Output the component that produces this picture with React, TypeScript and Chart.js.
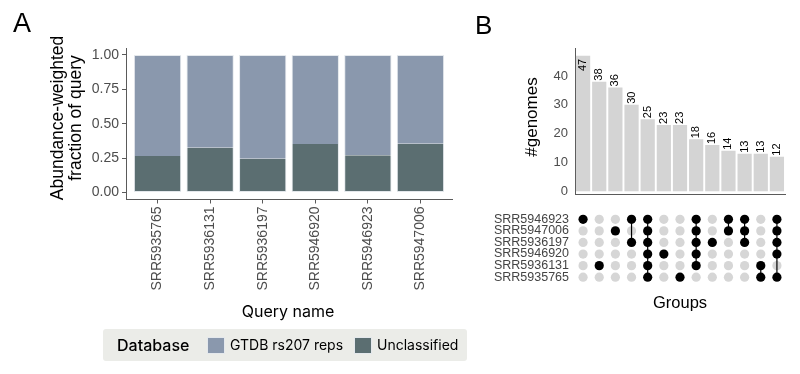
import React, { useEffect, useRef } from "react";
import { Chart, registerables } from "chart.js";
Chart.register(...registerables);

// ---------- Panel A data ----------
const queryNames = ["SRR5935765", "SRR5936131", "SRR5936197", "SRR5946920", "SRR5946923", "SRR5947006"];
const unclassified = [0.265, 0.326, 0.245, 0.353, 0.272, 0.355];
const gtdbReps = [0.735, 0.674, 0.755, 0.647, 0.728, 0.645];
const fractionTicks = [0, 0.25, 0.5, 0.75, 1];

// ---------- Panel B data ----------
const setNames = ["SRR5946923", "SRR5947006", "SRR5936197", "SRR5946920", "SRR5936131", "SRR5935765"];
const groupSizes = [47, 38, 36, 30, 25, 23, 23, 18, 16, 14, 13, 13, 12];
const groupMembers = [
  ["SRR5946923"],
  ["SRR5936131"],
  ["SRR5947006"],
  ["SRR5946923", "SRR5936197"],
  ["SRR5946923", "SRR5947006", "SRR5936197", "SRR5946920", "SRR5936131", "SRR5935765"],
  ["SRR5946920"],
  ["SRR5935765"],
  ["SRR5946923", "SRR5947006", "SRR5936197", "SRR5946920", "SRR5936131"],
  ["SRR5936197"],
  ["SRR5946923", "SRR5947006"],
  ["SRR5946923", "SRR5947006", "SRR5936197"],
  ["SRR5936131", "SRR5935765"],
  ["SRR5946923", "SRR5947006", "SRR5936197", "SRR5946920", "SRR5935765"],
];
const genomeTicks = [0, 10, 20, 30, 40];

// ---------- styles ----------
const sans = "'Liberation Sans', Arial, sans-serif";
const inter = "Inter, 'Liberation Sans', sans-serif";
const axisColor = "#5a5a5a";
const tickColor = "#4d4d4d";
const gtdbColor = "#8a98ad";
const unclColor = "#5b6e71";
const barEdge = "#e4e8ec";

const barValueLabels = {
  id: "barValueLabels",
  afterDatasetsDraw(chart: any) {
    const ctx = chart.ctx;
    const meta = chart.getDatasetMeta(0);
    const area = chart.chartArea;
    ctx.save();
    ctx.font = `11px ${sans}`;
    ctx.fillStyle = "#000";
    ctx.textBaseline = "middle";
    meta.data.forEach((bar: any, i: number) => {
      const text = String(groupSizes[i]);
      const w = ctx.measureText(text).width;
      const inside = bar.y - 1 - w < area.top;
      ctx.save();
      ctx.translate(bar.x, inside ? bar.y + 3 : bar.y - 1);
      ctx.rotate(-Math.PI / 2);
      ctx.textAlign = inside ? "right" : "left";
      ctx.fillText(text, 0, 0);
      ctx.restore();
    });
    ctx.restore();
  },
};

function Txt(props: { x: number; y: number; size: number; text: string; rotate?: boolean; family?: string; weight?: number; color?: string; lh?: number; anchor?: "center" | "left" }) {
  const { x, y, size, text, rotate, family, weight, color, lh, anchor } = props;
  const tx = anchor === "left" ? "0" : "-50%";
  return (
    <div
      style={{
        position: "absolute",
        left: x,
        top: y,
        transform: `translate(${tx}, -50%)${rotate ? " rotate(-90deg)" : ""}`,
        transformOrigin: anchor === "left" ? "left center" : "center center",
        fontFamily: family || sans,
        fontSize: size,
        fontWeight: weight || 400,
        color: color || "#000",
        lineHeight: `${lh || size * 1.15}px`,
        whiteSpace: "pre",
        textAlign: "center",
      }}
    >
      {text}
    </div>
  );
}

export default function App() {
  const refA = useRef<HTMLCanvasElement>(null);
  const refB = useRef<HTMLCanvasElement>(null);
  const refM = useRef<HTMLCanvasElement>(null);

  useEffect(() => {
    const tickFontA = { family: sans, size: 14 };
    const chartA = new Chart(refA.current!, {
      type: "bar",
      data: {
        datasets: [
          {
            label: "Unclassified",
            data: unclassified.map((v, i) => ({ x: i, y: v })),
            backgroundColor: unclColor,
            borderColor: barEdge,
            borderWidth: 1,
            borderSkipped: "top",
            barPercentage: 0.9,
            categoryPercentage: 1,
          },
          {
            label: "GTDB rs207 reps",
            data: gtdbReps.map((v, i) => ({ x: i, y: v })),
            backgroundColor: gtdbColor,
            borderColor: barEdge,
            borderWidth: 1,
            borderSkipped: "bottom",
            barPercentage: 0.9,
            categoryPercentage: 1,
          },
        ],
      } as any,
      options: {
        animation: false,
        responsive: false,
        maintainAspectRatio: false,
        events: [],
        layout: { padding: { left: 0, top: 48, right: 18, bottom: 0 } },
        plugins: { legend: { display: false }, tooltip: { enabled: false } },
        scales: {
          x: {
            type: "linear",
            stacked: true,
            min: -0.6,
            max: 5.6,
            offset: false,
            afterBuildTicks: (s: any) => {
              s.ticks = queryNames.map((_, i) => ({ value: i }));
            },
            afterFit: (s: any) => {
              s.height = 120.5;
            },
            ticks: {
              callback: (v: any) => queryNames[Math.round(v)],
              minRotation: 90,
              maxRotation: 90,
              autoSkip: false,
              color: tickColor,
              font: tickFontA,
              padding: 3,
            },
            grid: { display: true, offset: false, drawOnChartArea: false, drawTicks: true, tickLength: 4, color: axisColor },
            border: { display: true, color: axisColor, width: 1 },
          },
          y: {
            type: "linear",
            stacked: true,
            min: -0.05,
            max: 1.05,
            afterBuildTicks: (s: any) => {
              s.ticks = fractionTicks.map((v) => ({ value: v }));
            },
            afterFit: (s: any) => {
              s.width = 126;
            },
            ticks: {
              callback: (v: any) => Number(v).toFixed(2),
              color: tickColor,
              font: tickFontA,
              padding: 3,
            },
            grid: { display: true, drawOnChartArea: false, drawTicks: true, tickLength: 4, color: axisColor },
            border: { display: true, color: axisColor, width: 1 },
          },
        },
      } as any,
    });

    const chartB = new Chart(refB.current!, {
      type: "bar",
      data: {
        labels: groupSizes.map((_, i) => String(i + 1)),
        datasets: [
          {
            label: "#genomes",
            data: groupSizes,
            backgroundColor: "#d4d4d4",
            barPercentage: 0.88,
            categoryPercentage: 1,
          },
        ],
      },
      options: {
        animation: false,
        responsive: false,
        maintainAspectRatio: false,
        events: [],
        layout: { padding: { left: 0, top: 48, right: 15, bottom: 6 } },
        plugins: { legend: { display: false }, tooltip: { enabled: false } },
        scales: {
          x: {
            ticks: { display: false },
            grid: { display: false, drawTicks: false },
            border: { display: true, color: axisColor, width: 1 },
            afterFit: (s: any) => {
              s.height = 0;
            },
          },
          y: {
            min: -1.04,
            max: 49.7,
            afterBuildTicks: (s: any) => {
              s.ticks = genomeTicks.map((v) => ({ value: v }));
            },
            afterFit: (s: any) => {
              s.width = 105;
            },
            ticks: { color: tickColor, font: { family: sans, size: 13 }, padding: 7 },
            grid: { display: false, drawTicks: false },
            border: { display: true, color: axisColor, width: 1 },
          },
        },
      } as any,
      plugins: [barValueLabels],
    });

    const grayPts: any[] = [];
    const blackPts: any[] = [];
    const lineSets: any[] = [];
    groupMembers.forEach((members, gi) => {
      const rows = members.map((m) => setNames.indexOf(m));
      setNames.forEach((_, ri) => {
        if (!rows.includes(ri)) grayPts.push({ x: gi, y: ri });
      });
      rows.forEach((ri) => blackPts.push({ x: gi, y: ri }));
      if (rows.length > 1) {
        lineSets.push({
          type: "scatter",
          data: [
            { x: gi, y: Math.min(...rows) },
            { x: gi, y: Math.max(...rows) },
          ],
          showLine: true,
          borderColor: "#000",
          borderWidth: 1.2,
          pointRadius: 0,
          order: 1,
        });
      }
    });

    const chartM = new Chart(refM.current!, {
      type: "scatter",
      data: {
        datasets: [
          { data: blackPts, pointRadius: 4.6, backgroundColor: "#000", borderWidth: 0, order: 0 },
          ...lineSets,
          { data: grayPts, pointRadius: 4.6, backgroundColor: "#d6d6d6", borderWidth: 0, order: 2 },
        ],
      } as any,
      options: {
        animation: false,
        responsive: false,
        maintainAspectRatio: false,
        events: [],
        layout: { padding: { left: 0, top: 12, right: 15, bottom: 17 } },
        plugins: { legend: { display: false }, tooltip: { enabled: false } },
        scales: {
          x: { type: "linear", min: -0.5, max: 12.5, display: false },
          y: {
            type: "linear",
            reverse: true,
            min: -0.5,
            max: 5.5,
            afterBuildTicks: (s: any) => {
              s.ticks = setNames.map((_, i) => ({ value: i }));
            },
            afterFit: (s: any) => {
              s.width = 105;
            },
            ticks: {
              callback: (v: any) => setNames[Math.round(v)],
              color: "#444",
              font: { family: sans, size: 12.5 },
              padding: 6,
              autoSkip: false,
            },
            grid: { display: false, drawTicks: false },
            border: { display: false },
          },
        },
      } as any,
    });

    return () => {
      chartA.destroy();
      chartB.destroy();
      chartM.destroy();
    };
  }, []);

  return (
    <div style={{ position: "fixed", left: 0, top: 0, width: 800, height: 374, background: "#fff", overflow: "hidden" }}>
      <canvas ref={refA} width={470} height={320} style={{ position: "absolute", left: 0, top: 0, width: 470, height: 320 }} />
      <canvas ref={refB} width={330} height={209} style={{ position: "absolute", left: 470, top: 0, width: 330, height: 209 }} />
      <canvas ref={refM} width={330} height={100} style={{ position: "absolute", left: 470, top: 200, width: 330, height: 100 }} />

      <div style={{ position: "absolute", left: 13, top: 9.5, fontFamily: sans, fontSize: 27, lineHeight: "27px" }}>A</div>
      <div style={{ position: "absolute", left: 475, top: 11.5, fontFamily: sans, fontSize: 26, lineHeight: "26px" }}>B</div>

      <Txt x={66} y={118} size={17.5} lh={18} rotate text={"Abundance-weighted\nfraction of query"} />
      <Txt x={288} y={311} size={16} family={inter} text="Query name" />
      <Txt x={532} y={117} size={17} rotate text="#genomes" />
      <Txt x={680} y={302} size={16.5} text="Groups" />

      <div style={{ position: "absolute", left: 103, top: 329, width: 364, height: 32, background: "#ebece8", borderRadius: 3 }} />
      <Txt x={117} y={345} size={16} family={inter} weight={500} anchor="left" text="Database" />
      <div style={{ position: "absolute", left: 207, top: 337, width: 16, height: 15, background: gtdbColor, border: `1px solid ${barEdge}` }} />
      <Txt x={230} y={345} size={14} family={inter} anchor="left" text="GTDB rs207 reps" />
      <div style={{ position: "absolute", left: 354, top: 337, width: 16, height: 15, background: unclColor, border: `1px solid ${barEdge}` }} />
      <Txt x={377} y={345} size={14} family={inter} anchor="left" text="Unclassified" />
    </div>
  );
}
